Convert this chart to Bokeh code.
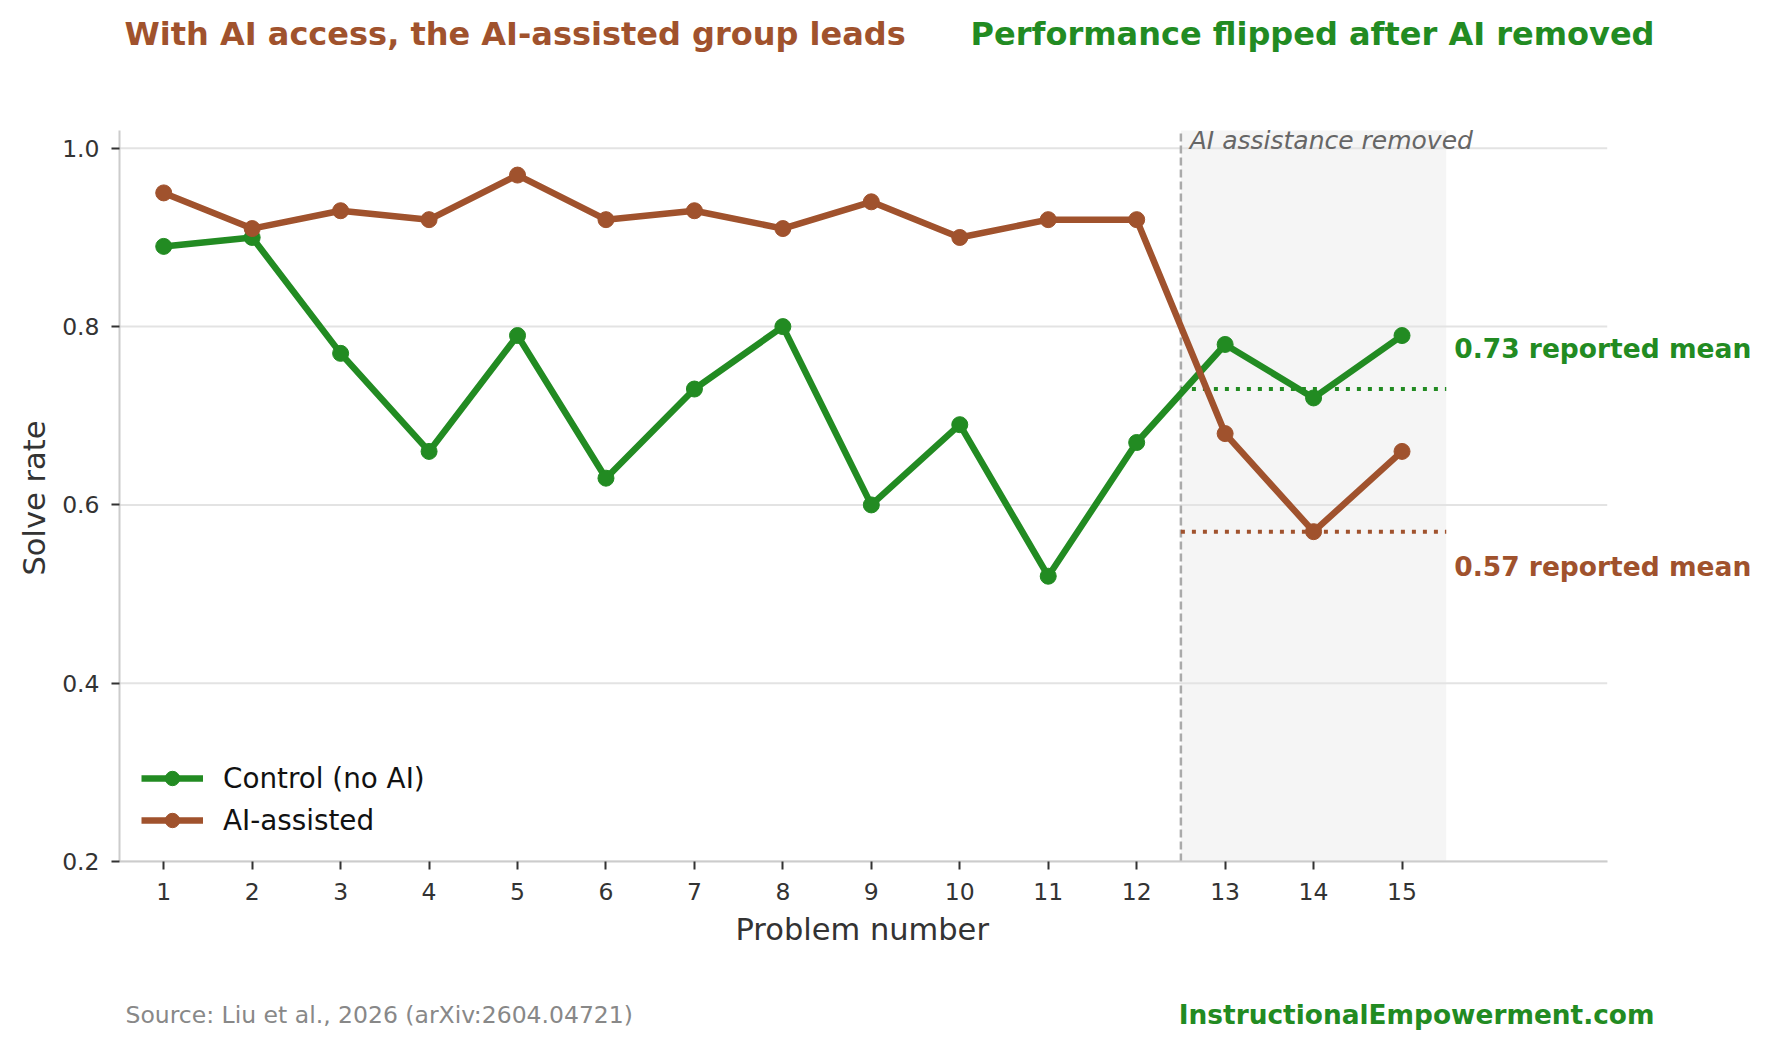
from bokeh.plotting import figure
from bokeh.layouts import column
from bokeh.models import Label, Title, BoxAnnotation, FixedTicker, PrintfTickFormatter, Legend, LegendItem
from bokeh.embed import file_html
from bokeh.resources import INLINE

# ---- data ----
problems = list(range(1, 16))
control = [0.89, 0.90, 0.77, 0.66, 0.79, 0.63, 0.73, 0.80, 0.60, 0.69, 0.52, 0.67, 0.78, 0.72, 0.79]
ai_assisted = [0.95, 0.91, 0.93, 0.92, 0.97, 0.92, 0.93, 0.91, 0.94, 0.90, 0.92, 0.92, 0.68, 0.57, 0.66]
y_ticks = [0.2, 0.4, 0.6, 0.8, 1.0]
x_axis_span = (0.5, 17.32)
y_axis_span = (0.2, 1.02)
removal_start = 12.5
removal_end = 15.5
control_mean = 0.73
ai_mean = 0.57

GREEN = "#228B22"
BROWN = "#A0522D"
FONT = "DejaVu Sans"
DARK = "#333333"

W = 1770
MAIN_H = 961
FOOT_H = 86
LEFT = 119

# frame: left at 119 px, bottom at 861 px; extends to the right/top edges
px_per_x = 88.45
px_per_y = 891.46
x_end = x_axis_span[0] + (W - LEFT) / px_per_x
y_end = y_axis_span[0] + 861 / px_per_y

p = figure(width=W, height=MAIN_H, x_range=(x_axis_span[0], x_end), y_range=(y_axis_span[0], y_end),
           output_backend="svg", toolbar_location=None,
           min_border_left=LEFT, min_border_right=0, min_border_top=0, min_border_bottom=MAIN_H - 861)
p.outline_line_color = None
p.background_fill_color = "white"
p.border_fill_color = "white"
p.xgrid.grid_line_color = None
p.ygrid.grid_line_color = None

# axes
for ax in (p.xaxis[0], p.yaxis[0]):
    ax.axis_line_color = "#cccccc"
    ax.axis_line_width = 2
    ax.major_tick_line_color = DARK
    ax.major_tick_line_width = 2
    ax.major_tick_out = 8
    ax.major_tick_in = 0
    ax.minor_tick_line_color = None
    ax.major_label_text_font = FONT
    ax.major_label_text_font_size = "23.5px"
    ax.major_label_text_color = DARK

p.xaxis.ticker = FixedTicker(ticks=problems)
p.xaxis.bounds = x_axis_span
p.xaxis.major_label_standoff = 13
p.yaxis.ticker = FixedTicker(ticks=y_ticks)
p.yaxis.bounds = y_axis_span
p.yaxis.formatter = PrintfTickFormatter(format="%.1f")
p.yaxis.major_label_standoff = 12

# axis titles placed along the axes box
p.add_layout(Title(text="Problem number", align="left", offset=616,
                   text_font=FONT, text_font_size="30.5px", text_font_style="normal",
                   text_color=DARK, standoff=14), "below")
p.add_layout(Title(text="Solve rate", align="left", offset=286,
                   text_font=FONT, text_font_size="30.5px", text_font_style="normal",
                   text_color=DARK, standoff=15), "left")

# shaded region
p.add_layout(BoxAnnotation(left=removal_start, right=removal_end, bottom=y_axis_span[0], top=y_axis_span[1],
                           fill_color="black", fill_alpha=0.04, line_color=None, level="underlay"))

# horizontal grid lines limited to the axes box
p.segment(x0=[x_axis_span[0]] * len(y_ticks), x1=[x_axis_span[1]] * len(y_ticks),
          y0=y_ticks, y1=y_ticks, line_color="#e3e3e3", line_width=2)

# divider
p.segment(x0=[removal_start], x1=[removal_start], y0=[y_axis_span[0]], y1=[y_axis_span[1]],
          line_color="#aaaaaa", line_width=2.5, line_dash="8 4")

# reported means
p.line([removal_start, removal_end], [control_mean, control_mean], line_color=GREEN,
       line_width=4, line_dash="4 7")
p.line([removal_start, removal_end], [ai_mean, ai_mean], line_color=BROWN,
       line_width=4, line_dash="4 7")

# series
l1 = p.line(problems, control, line_color=GREEN, line_width=6.5)
s1 = p.scatter(problems, control, size=16, color=GREEN)
l2 = p.line(problems, ai_assisted, line_color=BROWN, line_width=6.5)
s2 = p.scatter(problems, ai_assisted, size=16, color=BROWN)

legend = Legend(items=[LegendItem(label="Control (no AI)", renderers=[l1, s1]),
                       LegendItem(label="AI-assisted", renderers=[l2, s2])],
                location=(22, 23), glyph_width=62, glyph_height=36, label_height=36,
                spacing=6, label_standoff=20, padding=0, margin=0,
                border_line_color=None, background_fill_alpha=0,
                label_text_font=FONT, label_text_font_size="27.8px", label_text_color="#111111")
p.add_layout(legend)

# annotations in data space
p.add_layout(Label(x=12.6, y=1.009, text="AI assistance removed", text_font=FONT,
                   text_font_size="25px", text_font_style="italic", text_color="#666666",
                   text_baseline="alphabetic"))
p.add_layout(Label(x=15.59, y=0.7755, text=f"{control_mean:.2f} reported mean", text_font=FONT,
                   text_font_size="26.5px", text_font_style="bold", text_color=GREEN,
                   text_baseline="alphabetic"))
p.add_layout(Label(x=15.59, y=0.5309, text=f"{ai_mean:.2f} reported mean", text_font=FONT,
                   text_font_size="26.5px", text_font_style="bold", text_color=BROWN,
                   text_baseline="alphabetic"))

# headline titles (screen units relative to the frame's bottom-left corner)
p.add_layout(Label(x=5, y=828, x_units="screen", y_units="screen",
                   text="With AI access, the AI-assisted group leads", text_font=FONT,
                   text_font_size="32px", text_font_style="bold", text_color=BROWN,
                   text_baseline="alphabetic"))
p.add_layout(Label(x=1535, y=828, x_units="screen", y_units="screen",
                   text="Performance flipped after AI removed", text_font=FONT,
                   text_font_size="32px", text_font_style="bold", text_color=GREEN,
                   text_align="right", text_baseline="alphabetic"))

# footer strip (x in page pixels)
f = figure(width=W, height=FOOT_H, x_range=(LEFT, W), y_range=(0, FOOT_H),
           x_axis_type=None, y_axis_type=None, output_backend="svg", toolbar_location=None,
           min_border_left=LEFT, min_border_right=0, min_border_top=0, min_border_bottom=0)
f.outline_line_color = None
f.xgrid.grid_line_color = None
f.ygrid.grid_line_color = None
f.add_layout(Label(x=125, y=33, text="Source: Liu et al., 2026 (arXiv:2604.04721)", text_font=FONT,
                   text_font_size="23.5px", text_color="#888888", text_baseline="alphabetic"))
f.add_layout(Label(x=1654, y=33, text="InstructionalEmpowerment.com", text_font=FONT,
                   text_font_size="26.4px", text_font_style="bold", text_color=GREEN,
                   text_align="right", text_baseline="alphabetic"))

layout = column(p, f, spacing=0)
open("out.html", "w").write(file_html(layout, INLINE))
